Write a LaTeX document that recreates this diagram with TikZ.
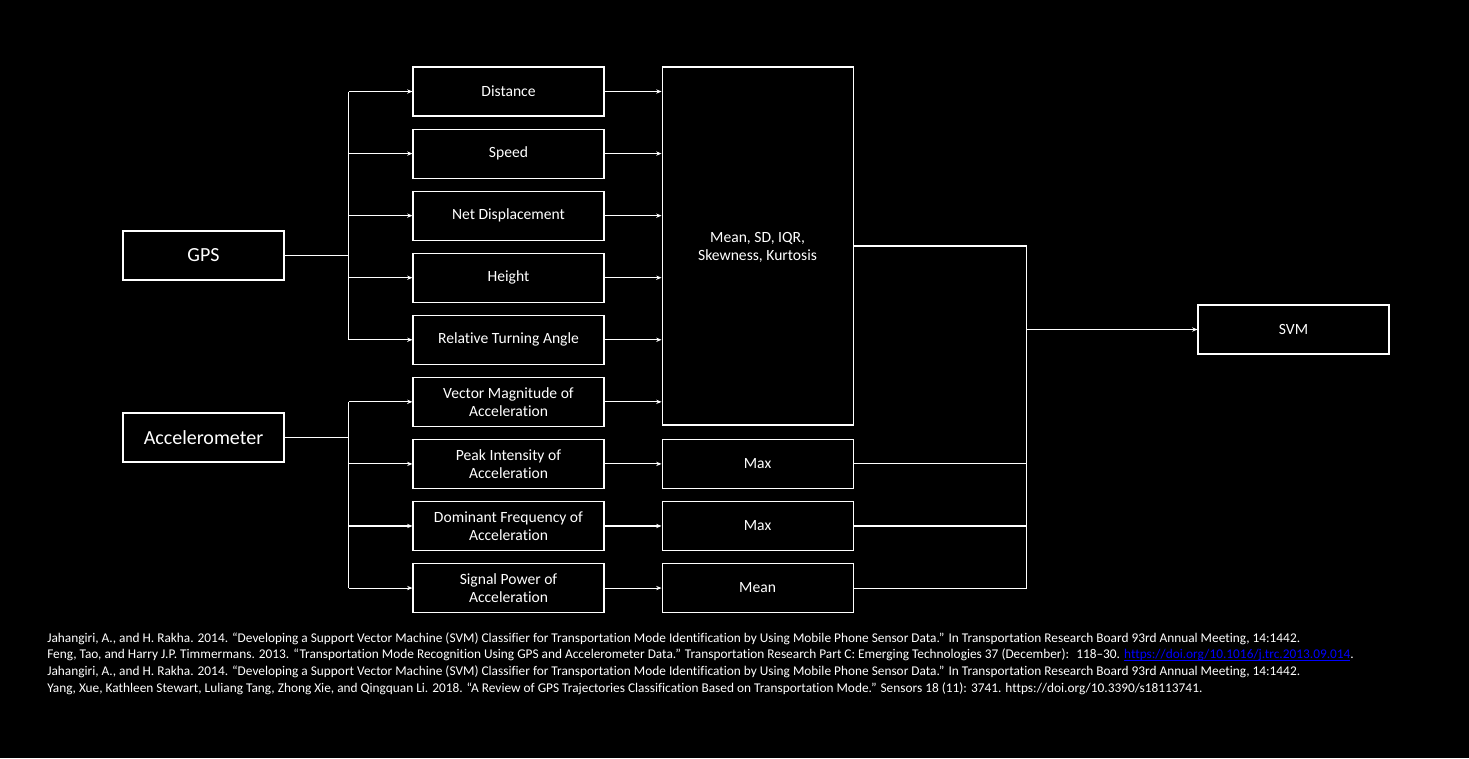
\documentclass[tikz,border=0pt]{standalone}
\usepackage{fontspec}
\setmainfont{Carlito}[Ligatures=NoCommon]
\usepackage{tikz}
\usetikzlibrary{positioning,arrows.meta,calc}
\definecolor{bg1}{HTML}{000000}
\definecolor{line1}{HTML}{FFFFFF}
\definecolor{link1}{HTML}{0000FF}

\begin{document}
\begin{tikzpicture}[
    x=0.75pt, y=-0.75pt,
    >={Stealth[length=4pt,width=3.2pt]},
    node distance=9pt,
    feat/.style={draw=line1, line width=0.8pt, minimum width=143.25pt,
                 minimum height=36.75pt, inner sep=2pt, align=center,
                 text=line1, font=\fontsize{11.7}{13.5}\selectfont},
    sensor/.style={feat, minimum width=120.75pt,
                   font=\fontsize{15}{17}\selectfont},
    wire/.style={line1, line width=0.8pt},
    feed/.style={->, wire},
]

\path[use as bounding box, fill=bg1] (0,0) rectangle (1469,758);

% ── Sensors ──
\node[sensor] (gps) at (203.5,255.5) {GPS};
\node[sensor] (acc) at (203.5,437.5) {Accelerometer};

% ── Features ──
\node[feat] (dist) at (508.5,91.5) {Distance};
\node[feat, below=of dist] (speed) {Speed};
\node[feat, below=of speed] (netd) {Net Displacement};
\node[feat, below=of netd] (height) {Height};
\node[feat, below=of height] (turn) {Relative Turning Angle};
\node[feat, below=of turn] (vmag) {Vector Magnitude of\\Acceleration};
\node[feat, below=of vmag] (peak) {Peak Intensity of\\Acceleration};
\node[feat, below=of peak] (domf) {Dominant Frequency of\\Acceleration};
\node[feat, below=of domf] (sigp) {Signal Power of\\Acceleration};

% ── Statistics ──
\node[feat, anchor=north west, minimum height=268.5pt, text depth=-3pt] (stats)
    at ([xshift=42.75pt]dist.north east) {Mean, SD, IQR,\\Skewness, Kurtosis};
\node[feat, right=42.75pt of peak] (max1) {Max};
\node[feat, right=42.75pt of domf] (max2) {Max};
\node[feat, right=42.75pt of sigp] (mean1) {Mean};

% ── Classifier ──
\node[feat] (svm) at (1293.5,329.5) {SVM};

% ── GPS branch ──
\coordinate[right=48pt of gps.east] (gpsbus);
\draw[wire, line width=1.4pt] (gps.east) -- (gpsbus);
\draw[wire] (gpsbus |- dist) -- (gpsbus |- turn);
\foreach \f in {dist,speed,netd,height,turn}
    \draw[feed] (gpsbus |- \f.west) -- (\f.west);

% ── Accelerometer branch ──
\coordinate[right=48pt of acc.east] (accbus);
\draw[wire] (acc.east) -- (accbus);
\draw[wire] (accbus |- vmag) -- (accbus |- sigp);
\foreach \f in {vmag,peak,domf,sigp}
    \draw[feed] (accbus |- \f.west) -- (\f.west);

% ── Features to statistics ──
\foreach \f in {dist,speed,netd,height,turn,vmag}
    \draw[feed] (\f.east) -- (\f.east -| stats.west);
\draw[feed] (peak) -- (max1);
\draw[feed] (domf) -- (max2);
\draw[feed] (sigp) -- (mean1);

% ── Statistics to SVM ──
\coordinate[right=129.75pt of stats.east] (svmbus);
\draw[wire] (stats.east) -- (svmbus) -- (svmbus |- mean1.east);
\foreach \s in {max1,max2,mean1}
    \draw[wire] (\s.east) -- (svmbus |- \s.east);
\draw[feed, line width=1.2pt] (svmbus |- svm.west) -- (svm.west);

% ── References ──
\node[anchor=north west, align=left, inner sep=0pt, text=line1,
      font=\fontsize{10}{12.5}\selectfont] (refs) at (47,632)
    {Jahangiri, A., and H. Rakha. 2014. “Developing a Support Vector Machine (SVM) Classifier for Transportation Mode Identification by Using Mobile Phone Sensor Data.” In Transportation Research Board 93rd Annual Meeting, 14:1442.\\
     Feng, Tao, and Harry J.P. Timmermans. 2013. “Transportation Mode Recognition Using GPS and Accelerometer Data.” Transportation Research Part C: Emerging Technologies 37 (December): \ 118–30. \textcolor{link1}{\underline{\smash{https://doi.org/10.1016/j.trc.2013.09.014}}}.\\
     Jahangiri, A., and H. Rakha. 2014. “Developing a Support Vector Machine (SVM) Classifier for Transportation Mode Identification by Using Mobile Phone Sensor Data.” In Transportation Research Board 93rd Annual Meeting, 14:1442.\\
     Yang, Xue, Kathleen Stewart, Luliang Tang, Zhong Xie, and Qingquan Li. 2018. “A Review of GPS Trajectories Classification Based on Transportation Mode.” Sensors 18 (11): 3741. https://doi.org/10.3390/s18113741.};

\end{tikzpicture}
\end{document}
